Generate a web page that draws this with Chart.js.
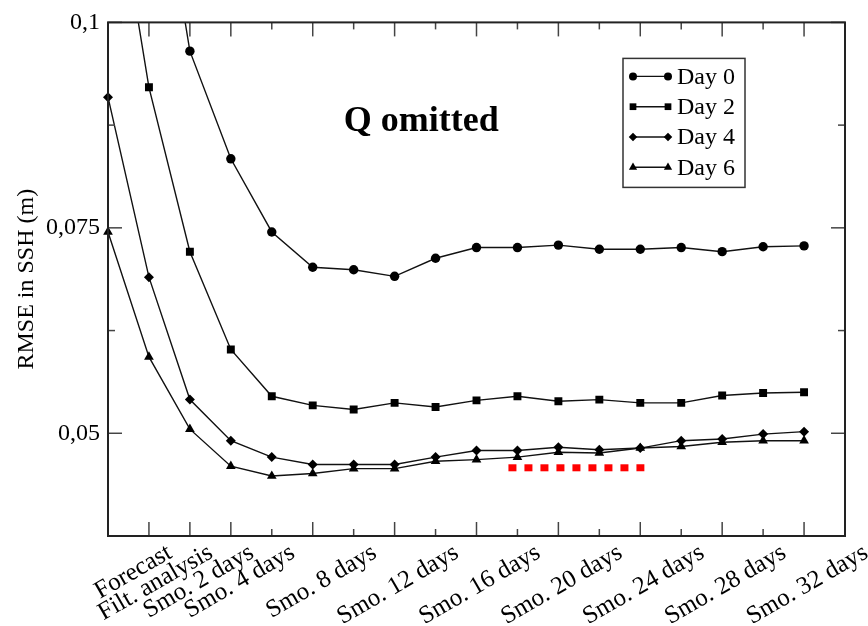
<!DOCTYPE html>
<html lang="en">
<head>
    <meta charset="UTF-8">
    <title>RMSE in SSH - Q omitted</title>
    <script src="https://cdn.jsdelivr.net/npm/chart.js"></script>
    <style>
        html, body { margin: 0; padding: 0; background: #fff; }
        .chart-box { width: 868px; height: 626px; }
    </style>
</head>
<body>
    <div class="chart-box"><canvas id="rmseChart"></canvas></div>

    <script>
        // One x position per run: forecast, filter analysis, then smoother windows (2..32 days)
        const xTickLabels = ['Forecast', 'Filt. analysis', 'Smo. 2 days', 'Smo. 4 days', '', 'Smo. 8 days', '',
            'Smo. 12 days', '', 'Smo. 16 days', '', 'Smo. 20 days', '', 'Smo. 24 days', '', 'Smo. 28 days', '', 'Smo. 32 days'];

        // RMSE in SSH (m) (first points of Day 0 / Day 2 are above the axis)
        const day0 = [0.160, 0.127, 0.0965, 0.0834, 0.0745, 0.0702, 0.0699, 0.0691, 0.0713, 0.0726, 0.0726, 0.0729, 0.0724, 0.0724, 0.0726, 0.0721, 0.0727, 0.0728];
        const day2 = [0.1226, 0.0921, 0.0721, 0.0602, 0.0545, 0.0534, 0.0529, 0.0537, 0.0532, 0.0540, 0.0545, 0.0539, 0.0541, 0.0537, 0.0537, 0.0546, 0.0549, 0.0550];
        const day4 = [0.0909, 0.0690, 0.0541, 0.0491, 0.0471, 0.0462, 0.0462, 0.0462, 0.0471, 0.0479, 0.0479, 0.0483, 0.0480, 0.0482, 0.0491, 0.0493, 0.0499, 0.0502];
        const day6 = [0.0745, 0.0593, 0.0505, 0.0460, 0.0448, 0.0451, 0.0457, 0.0457, 0.0466, 0.0468, 0.0471, 0.0477, 0.0476, 0.0482, 0.0484, 0.0489, 0.0491, 0.0491];

        // red dotted marker under the curves
        const redMarkX = [9.78, 13.1];
        const redMarkY = [0.0458, 0.0458];

        const yTickValues = [0.05, 0.075, 0.1];
        const yTickLabels = ['0,05', '0,075', '0,1'];
        const yMinorTicks = [0.0625, 0.0875];

        const serif = 'Liberation Serif, Times New Roman, serif';

        function series(label, values, style, radius) {
            return {
                label: label,
                data: values.map((v, i) => ({ x: i, y: v })),
                borderColor: '#111',
                borderWidth: 1.4,
                pointStyle: style,
                pointRadius: radius,
                pointBackgroundColor: '#000',
                pointBorderColor: '#000',
                pointBorderWidth: 0,
                tension: 0,
                clip: { left: 8, right: 8, top: 0, bottom: 8 }
            };
        }

        const datasets = [
            series('Day 0', day0, 'circle', 4.7),
            series('Day 2', day2, 'rect', 5.6),
            series('Day 4', day4, 'rectRot', 5),
            series('Day 6', day6, 'triangle', 5.6),
            {
                label: 'marker',
                data: redMarkX.map((x, i) => ({ x: x, y: redMarkY[i] })),
                borderColor: '#ff0000',
                borderWidth: 7,
                borderDash: [8, 8],
                borderCapStyle: 'butt',
                pointRadius: 0
            }
        ];

        function line(ctx, x1, y1, x2, y2) {
            ctx.beginPath();
            ctx.moveTo(x1, y1);
            ctx.lineTo(x2, y2);
            ctx.stroke();
        }

        // Box frame with inward ticks on all four sides
        const frameTicks = {
            id: 'frameTicks',
            afterDatasetsDraw(chart) {
                const { ctx, chartArea: a, scales: { x, y } } = chart;
                ctx.save();
                ctx.strokeStyle = '#444';
                ctx.lineWidth = 1.5;
                xTickLabels.forEach((lab, i) => {
                    if (i === 0) return;
                    const px = x.getPixelForValue(i);
                    const len = lab ? 14 : 7;
                    line(ctx, px, a.bottom, px, a.bottom - len);
                    line(ctx, px, a.top, px, a.top + len);
                });
                yTickValues.concat(yMinorTicks).forEach(v => {
                    const py = y.getPixelForValue(v);
                    const len = yTickValues.includes(v) ? 14 : 7;
                    line(ctx, a.left, py, a.left + len, py);
                    line(ctx, a.right, py, a.right - len, py);
                });
                ctx.strokeStyle = '#222';
                ctx.lineWidth = 2;
                ctx.strokeRect(a.left, a.top, a.width, a.height);
                ctx.restore();
            }
        };

        // Legend box (line with a marker at each end) and the "Q omitted" label
        const legendAndTitle = {
            id: 'legendAndTitle',
            afterDraw(chart) {
                const { ctx, chartArea: a } = chart;
                ctx.save();

                ctx.fillStyle = '#000';
                ctx.font = 'bold 36px ' + serif;
                ctx.textAlign = 'center';
                ctx.textBaseline = 'alphabetic';
                ctx.fillText('Q omitted', a.left + a.width * 0.425, a.top + 109);

                const boxW = 122, boxH = 129;
                const bx = a.right - 100 - boxW, by = a.top + 36;
                ctx.fillStyle = '#fff';
                ctx.fillRect(bx, by, boxW, boxH);
                ctx.strokeStyle = '#333';
                ctx.lineWidth = 1.5;
                ctx.strokeRect(bx, by, boxW, boxH);

                ctx.font = '24px ' + serif;
                ctx.textAlign = 'left';
                ctx.textBaseline = 'middle';
                for (let i = 0; i < 4; i++) {
                    const ds = chart.data.datasets[i];
                    const ry = by + 18 + i * 30.3;
                    const x1 = bx + 10, x2 = bx + 45;
                    ctx.strokeStyle = '#111';
                    ctx.lineWidth = 1.4;
                    line(ctx, x1, ry, x2, ry);
                    ctx.fillStyle = '#000';
                    [x1, x2].forEach(px => {
                        Chart.helpers.drawPoint(ctx, { pointStyle: ds.pointStyle, radius: ds.pointRadius * 0.85, rotation: 0, borderWidth: 0 }, px, ry);
                    });
                    ctx.fillStyle = '#000';
                    ctx.fillText(ds.label, bx + 54, ry + 1);
                }
                ctx.restore();
            }
        };

        const ctx = document.getElementById('rmseChart').getContext('2d');
        const rmseChart = new Chart(ctx, {
            type: 'line',
            data: { datasets: datasets },
            options: {
                responsive: true,
                maintainAspectRatio: false,
                animation: false,
                layout: { padding: { top: 21, right: 23, left: 0, bottom: 0 } },
                plugins: {
                    legend: { display: false },
                    tooltip: { enabled: false }
                },
                scales: {
                    x: {
                        type: 'linear',
                        min: 0,
                        max: 18,
                        grid: { display: false, drawTicks: false },
                        border: { display: false },
                        afterBuildTicks: s => { s.ticks = xTickLabels.map((l, i) => ({ value: i })); },
                        afterFit: s => { s.height = 90; },
                        ticks: {
                            autoSkip: false,
                            minRotation: 30,
                            maxRotation: 30,
                            labelOffset: 62,
                            padding: 2,
                            color: '#000',
                            font: { family: serif, size: 25 },
                            callback: v => xTickLabels[v] || ''
                        }
                    },
                    y: {
                        min: 0.0375,
                        max: 0.1,
                        grid: { display: false, drawTicks: false },
                        border: { display: false },
                        afterBuildTicks: s => { s.ticks = yTickValues.map(v => ({ value: v })); },
                        afterFit: s => { s.width = 108; },
                        ticks: {
                            padding: 8,
                            color: '#000',
                            font: { family: serif, size: 24 },
                            callback: v => yTickLabels[yTickValues.indexOf(v)]
                        },
                        title: {
                            display: true,
                            text: 'RMSE in SSH (m)',
                            color: '#000',
                            font: { family: serif, size: 24 },
                            padding: { top: 12, bottom: 4 }
                        }
                    }
                }
            },
            plugins: [frameTicks, legendAndTitle]
        });
    </script>
</body>
</html>
